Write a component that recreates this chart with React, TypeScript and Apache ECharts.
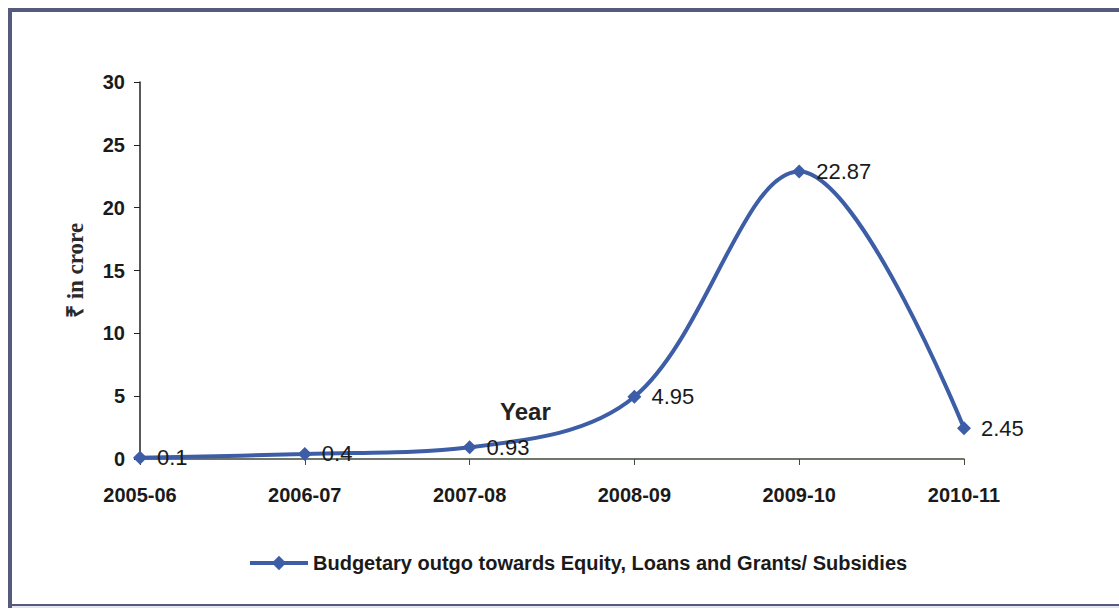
import React, { useEffect, useRef } from "react";
import * as echarts from "echarts";

const categories = ["2005-06", "2006-07", "2007-08", "2008-09", "2009-10", "2010-11"];
const values = [0.1, 0.4, 0.93, 4.95, 22.87, 2.45];
const seriesName = "Budgetary outgo towards Equity, Loans and Grants/ Subsidies";
const yAxisName = "₹ in crore";
const xAxisName = "Year";

export default function App() {
  const ref = useRef<HTMLDivElement>(null);
  useEffect(() => {
    if (!ref.current) return;
    const chart = echarts.init(ref.current, null, { renderer: "svg" });
    const blue = "#3d5ea6";
    chart.setOption({
      animation: false,
      backgroundColor: "#ffffff",
      textStyle: { fontFamily: "Liberation Sans, Arial, sans-serif" },
      grid: { left: 140, right: 155, top: 82, bottom: 152 },
      graphic: [
        {
          type: "rect",
          shape: { x: 10, y: 10, width: 1130, height: 596 },
          style: { fill: "none", stroke: "#565a7c", lineWidth: 4 },
        },
        {
          type: "line",
          shape: { x1: 12, y1: 607, x2: 1119, y2: 607 },
          style: { stroke: "#e3e6ee", lineWidth: 2 },
        },
        {
          type: "text",
          left: 500,
          top: 399,
          style: {
            text: xAxisName,
            fontSize: 24,
            fontWeight: "bold",
            fill: "#222",
            fontFamily: "Liberation Sans, Arial, sans-serif",
          },
        },
      ],
      legend: {
        top: 548,
        left: 243,
        itemWidth: 58,
        itemHeight: 18,
        itemGap: 4,
        data: [seriesName],
        lineStyle: { width: 4 },
        textStyle: { fontSize: 20, fontWeight: "bold", color: "#1a1a1a" },
      },
      xAxis: {
        type: "category",
        data: categories,
        boundaryGap: false,
        axisLine: { lineStyle: { color: "#3f4a3a", width: 1.5 } },
        axisTick: { show: true, length: 6, alignWithLabel: true, lineStyle: { color: "#3f4a3a" } },
        axisLabel: { margin: 26, fontSize: 20, fontWeight: "bold", color: "#1a1a1a" },
      },
      yAxis: {
        type: "value",
        min: 0,
        max: 30,
        interval: 5,
        name: yAxisName,
        nameLocation: "middle",
        nameGap: 53,
        nameRotate: 90,
        nameTextStyle: {
          fontFamily: "Liberation Serif, Times New Roman, serif",
          fontSize: 23,
          fontWeight: "bold",
          color: "#2a2a2a",
        },
        splitLine: { show: false },
        axisLine: { show: true, lineStyle: { color: "#222", width: 1.5 } },
        axisTick: { show: true, length: 6, lineStyle: { color: "#222" } },
        axisLabel: { margin: 15, fontSize: 20, fontWeight: "bold", color: "#1a1a1a" },
      },
      series: [
        {
          name: seriesName,
          type: "line",
          data: values,
          smooth: 0.35,
          symbol: "diamond",
          symbolSize: 14,
          lineStyle: { color: blue, width: 4 },
          itemStyle: { color: blue },
          label: {
            show: true,
            position: "right",
            distance: 10,
            fontSize: 22,
            color: "#1a1a1a",
          },
        },
      ],
    });
    return () => chart.dispose();
  }, []);
  return (
    <div
      ref={ref}
      style={{ position: "absolute", left: 0, top: 0, width: 1119, height: 611 }}
    />
  );
}
